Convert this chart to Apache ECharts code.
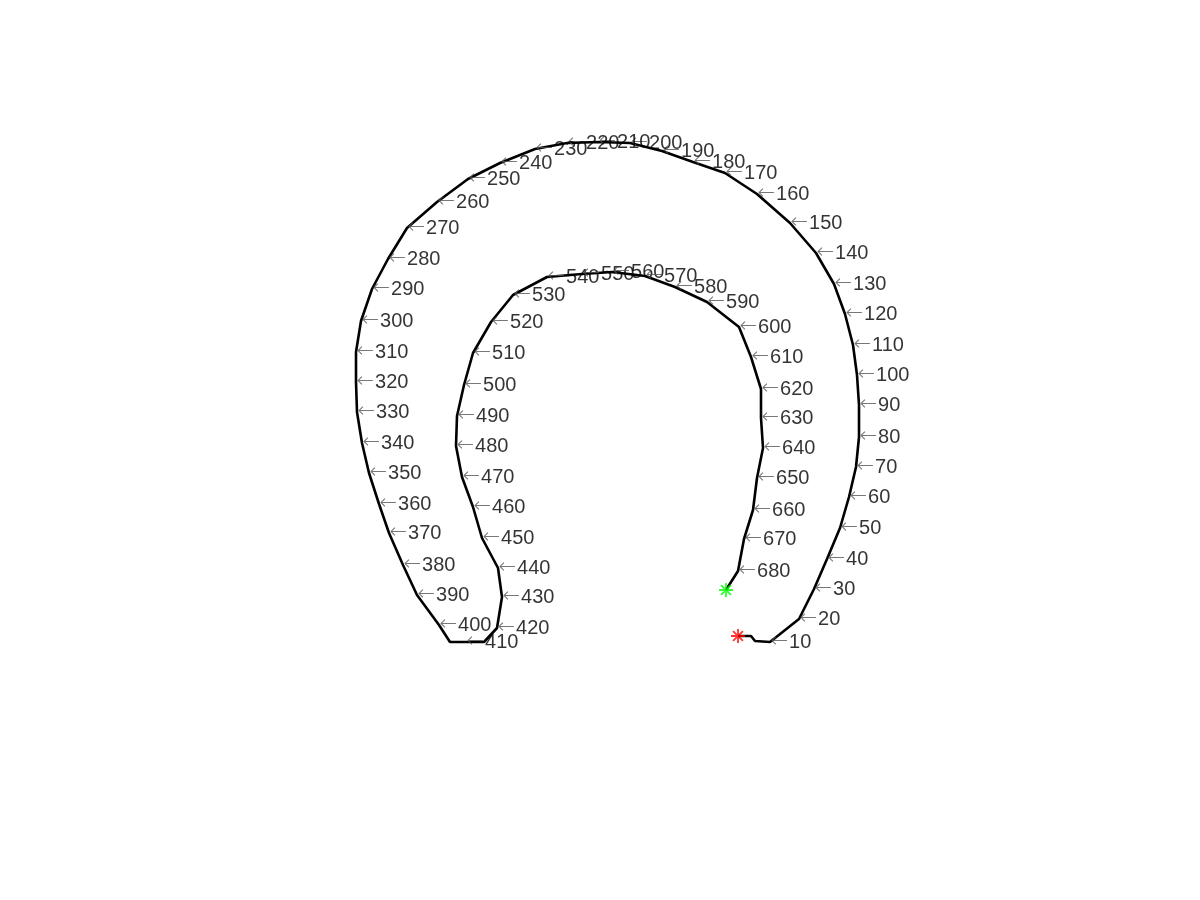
<!DOCTYPE html>
<html>
<head>
<meta charset="utf-8">
<script src="https://cdn.jsdelivr.net/npm/echarts@6/dist/echarts.min.js"></script>
<style>html,body{margin:0;padding:0;background:#fff;}#c{width:1200px;height:900px;}</style>
</head>
<body>
<div id="c"></div>
<script>
// Boundary trace: labelled points every 10 samples (column, row in figure units)
const labelIdx = [10,20,30,40,50,60,70,80,90,100,110,120,130,140,150,160,170,180,190,200,
  210,220,230,240,250,260,270,280,290,300,310,320,330,340,350,360,370,380,390,400,
  410,420,430,440,450,460,470,480,490,500,510,520,530,540,550,560,570,580,590,600,
  610,620,630,640,650,660,670,680];
const labelX = [770,799,814,827,840,849,856,859,859,857,853,845,834,816,790,757,725,693,662,630,
  598,567,535,500,468,437,407,388,372,361,356,356,357,362,369,379,389,403,417,439,
  466,497,502,498,482,473,462,456,457,464,473,491,513,547,582,612,645,675,707,739,
  751,761,761,763,757,753,744,738];
const labelY = [642,619,589,559,528,497,467,437,405,375,345,314,284,253,223,194,173,162,151,143,
  142,143,149,163,179,202,228,259,289,321,352,382,412,443,473,504,533,565,595,625,
  642,628,597,568,538,507,477,446,416,385,353,322,295,277,274,272,276,287,302,327,
  357,389,418,448,478,510,539,571];
// extra corner samples (index, x, y)
const cornerIdx = [5, 6, 406, 416];
const cornerX = [751, 755, 450, 484];
const cornerY = [636, 641, 642, 642];
const startPt = [738, 636];
const endPt = [726, 590];

// merge into one ordered path
const pts = [];
labelIdx.forEach((k, i) => pts.push([k, labelX[i], labelY[i]]));
cornerIdx.forEach((k, i) => pts.push([k, cornerX[i], cornerY[i]]));
pts.push([1, startPt[0], startPt[1]]);
pts.push([687, endPt[0], endPt[1]]);
pts.sort((a, b) => a[0] - b[0]);
const pathData = pts.map(p => [p[1], p[2]]);
const labelData = labelIdx.map((k, i) => ({ name: String(k), value: [labelX[i], labelY[i]] }));

const star = 'path://M-1.3,-10L1.3,-10L1.3,10L-1.3,10Z M-10,-1.3L10,-1.3L10,1.3L-10,1.3Z ' +
  'M-8,-6.2L-6.2,-8L8,6.2L6.2,8Z M6.2,-8L8,-6.2L-6.2,8L-8,6.2Z';

const chart = echarts.init(document.getElementById('c'), null, { renderer: 'canvas' });
chart.setOption({
  animation: false,
  backgroundColor: '#ffffff',
  grid: { left: 0, right: 0, top: 0, bottom: 0 },
  xAxis: { type: 'value', min: 0, max: 1200, show: false },
  yAxis: { type: 'value', min: 0, max: 900, inverse: true, show: false },
  series: [
    {
      type: 'line', data: pathData, showSymbol: false, symbol: 'none',
      lineStyle: { color: '#000', width: 2.6 }, z: 2
    },
    {
      type: 'scatter', data: [startPt], symbol: star, symbolSize: 14,
      itemStyle: { color: '#ff0000' }, z: 3
    },
    {
      type: 'scatter', data: [endPt], symbol: star, symbolSize: 14,
      itemStyle: { color: '#00ff00' }, z: 3
    },
    {
      type: 'scatter', data: labelData, symbolSize: 1,
      itemStyle: { color: 'rgba(0,0,0,0)' }, z: 4,
      label: {
        show: true, position: 'right', distance: 0,
        formatter: p => '{a|\u2190}{n|' + p.name + '}',
        rich: {
          a: { fontFamily: 'DejaVu Sans', fontSize: 21, fontWeight: 'lighter', color: '#555', verticalAlign: 'middle', padding: [0, 1, 0, 0] },
          n: { fontFamily: 'Liberation Sans', fontSize: 20, color: '#000', verticalAlign: 'middle' }
        }
      }
    }
  ]
});
</script>
</body>
</html>
